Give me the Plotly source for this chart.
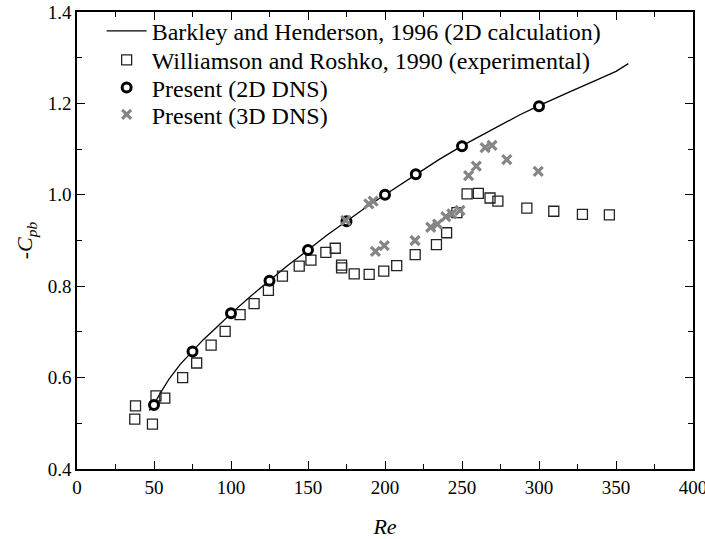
import plotly.graph_objects as go

# Barkley and Henderson (1996), 2D calculation
bh_re = [47, 50, 55, 60, 67, 75, 82, 90, 100, 112, 125, 137, 150, 162, 175, 187, 200, 220, 235,
         250, 262, 275, 287, 300, 310, 321, 338, 350, 358]
bh_cpb = [0.528, 0.542, 0.571, 0.598, 0.629, 0.658, 0.683, 0.708, 0.740, 0.776, 0.813, 0.846,
          0.879, 0.911, 0.942, 0.971, 1.000, 1.045, 1.077, 1.107, 1.129, 1.152, 1.174, 1.195,
          1.211, 1.227, 1.252, 1.270, 1.287]

# Williamson and Roshko (1990), experimental
wr_re = [38, 37.5, 49, 51.3, 57, 68.6, 77.7, 87.1, 96.2, 105.9, 115, 124.3, 133.4, 144.3, 151.9,
         161.6, 167.7, 171.8, 171.8, 180, 189.7, 199.2, 207.6, 219.6, 233.4, 240, 246.7, 253.3,
         260.6, 268.2, 273.3, 292.1, 309.6, 328.2, 345.7]
wr_cpb = [0.538, 0.509, 0.498, 0.560, 0.555, 0.600, 0.632, 0.671, 0.701, 0.738, 0.762, 0.791,
          0.822, 0.844, 0.857, 0.874, 0.883, 0.846, 0.840, 0.827, 0.826, 0.833, 0.845, 0.869,
          0.891, 0.917, 0.961, 1.002, 1.003, 0.993, 0.986, 0.971, 0.964, 0.957, 0.956]

# Present 2D DNS
dns2_re = [50, 75, 100, 125, 150, 175, 200, 220, 250, 300]
dns2_cpb = [0.540, 0.657, 0.741, 0.812, 0.879, 0.942, 1.000, 1.045, 1.106, 1.194]

# Present 3D DNS
dns3_re = [174.5, 189.5, 192.3, 193.8, 199.5, 219.5, 229.7, 234.1, 239.5, 243.4, 248.7,
           254.3, 259.3, 265, 269.5, 279.1, 299.5]
dns3_cpb = [0.944, 0.980, 0.986, 0.876, 0.889, 0.900, 0.929, 0.936, 0.952, 0.958, 0.966,
            1.042, 1.063, 1.103, 1.108, 1.077, 1.051]

x_ticks = [0, 50, 100, 150, 200, 250, 300, 350, 400]
y_ticks = [0.4, 0.6, 0.8, 1.0, 1.2, 1.4]

SERIF = "Liberation Serif"

fig = go.Figure()
fig.add_trace(go.Scatter(
    x=bh_re, y=bh_cpb, mode="lines", line=dict(color="black", width=1.3),
    name="Barkley and Henderson, 1996 (2D calculation)", legend="legend"))
fig.add_trace(go.Scatter(
    x=wr_re, y=wr_cpb, mode="markers",
    marker=dict(symbol="square-open", size=10, color="#222222", line=dict(width=1.3)),
    name="Williamson and Roshko, 1990 (experimental)", legend="legend2"))
fig.add_trace(go.Scatter(
    x=dns2_re, y=dns2_cpb, mode="markers",
    marker=dict(symbol="circle", size=9, color="white", line=dict(color="black", width=3)),
    name="Present (2D DNS)", legend="legend3"))
fig.add_trace(go.Scatter(
    x=dns3_re, y=dns3_cpb, mode="markers",
    marker=dict(symbol="x-thin", size=9, color="#858585", line=dict(color="#858585", width=3.2)),
    name="Present (3D DNS)", legend="legend4"))

axis_common = dict(
    showline=True, linecolor="black", linewidth=1.6, mirror="allticks",
    ticks="inside", ticklen=8, tickwidth=1.4, tickcolor="black",
    showgrid=False, zeroline=False, ticklabeloverflow="allow",
    tickfont=dict(family=SERIF, size=19, color="black"),
)

fig.update_xaxes(
    range=[0, 400], tickvals=x_ticks, ticktext=[str(v) for v in x_ticks],
    minor=dict(dtick=25, ticks="inside", ticklen=5, tickwidth=1.2, tickcolor="black"),
    title=dict(text="<i>Re</i>", font=dict(family=SERIF, size=22, color="black"), standoff=22),
    **axis_common)
fig.update_yaxes(
    range=[0.4, 1.4], tickvals=y_ticks, ticktext=[f"{v:.1f}" for v in y_ticks],
    minor=dict(dtick=0.1, ticks="inside", ticklen=5, tickwidth=1.2, tickcolor="black"),
    title=dict(text="-<i>C</i><sub><i>pb</i></sub>", font=dict(family=SERIF, size=22, color="black"),
               standoff=9),
    **axis_common)

# one legend box per entry so the rows can sit closer than the default spacing;
# placed in container coordinates so they never push the plot margins
legend_style = dict(x=0.04, xanchor="left", yanchor="middle", yref="container",
                    font=dict(family=SERIF, size=24, color="black"),
                    bgcolor="rgba(0,0,0,0)", itemwidth=40)

fig.update_layout(
    template="none",
    width=705, height=539,
    margin=dict(l=77, r=12, t=12, b=70, autoexpand=False),
    paper_bgcolor="white", plot_bgcolor="white",
    font=dict(family=SERIF, color="black"),
    showlegend=True,
    legend=dict(y=0.942, **legend_style),
    legend2=dict(y=0.888, **legend_style),
    legend3=dict(y=0.837, **legend_style),
    legend4=dict(y=0.787, **legend_style),
)

fig.write_html("out.html")
